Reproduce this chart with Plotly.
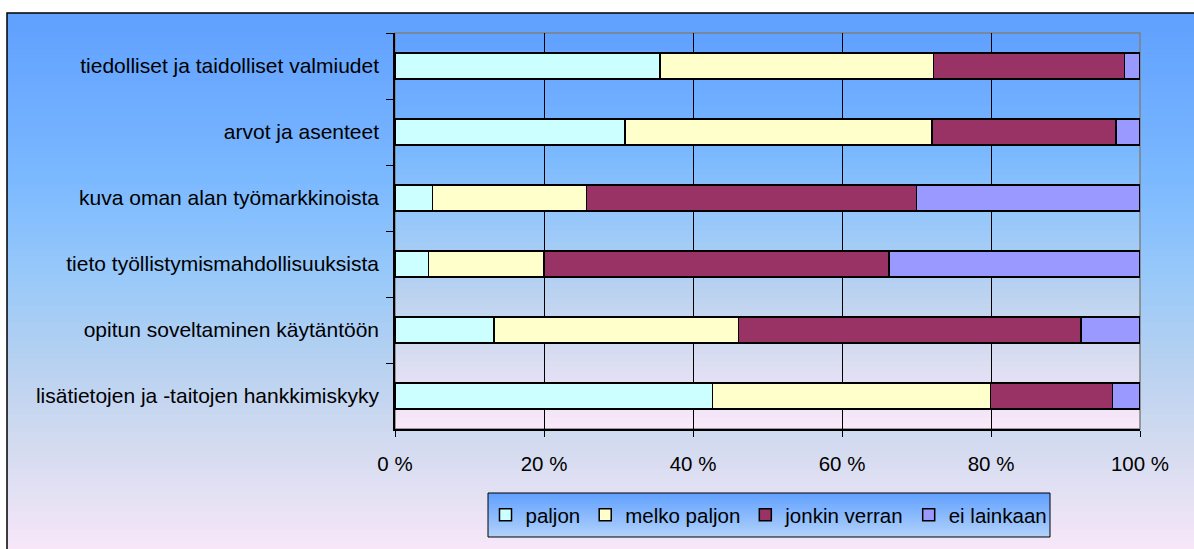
import plotly.graph_objects as go

categories = [
    "tiedolliset ja taidolliset valmiudet",
    "arvot ja asenteet",
    "kuva oman alan työmarkkinoista",
    "tieto työllistymismahdollisuuksista",
    "opitun soveltaminen käytäntöön",
    "lisätietojen ja -taitojen hankkimiskyky",
]
paljon = [35.6, 30.9, 5.0, 4.5, 13.3, 42.6]
melko_paljon = [36.7, 41.2, 20.7, 15.5, 32.8, 37.3]
jonkin_verran = [25.6, 24.7, 44.3, 46.3, 46.0, 16.4]
ei_lainkaan = [2.1, 3.2, 30.0, 33.7, 7.9, 3.7]
x_ticks = [0, 20, 40, 60, 80, 100]
x_tick_labels = ["0 %", "20 %", "40 %", "60 %", "80 %", "100 %"]

series = [
    ("paljon", paljon, "#CCFFFF"),
    ("melko paljon", melko_paljon, "#FFFFCC"),
    ("jonkin verran", jonkin_verran, "#993366"),
    ("ei lainkaan", ei_lainkaan, "#9999FF"),
]

W, H = 1194, 549
L, R, T, B = 395, 1140, 33, 429  # plot area in pixels

# gradient stops (fraction, rgb) - blue on top, pink at the bottom
STOPS = [
    (0.0, (96, 160, 255)),
    (0.3, (122, 184, 255)),
    (0.47, (150, 200, 250)),
    (0.65, (185, 210, 240)),
    (0.81, (215, 220, 240)),
    (1.0, (250, 232, 250)),
]


def grad_color(t, stops=STOPS):
    for (t0, c0), (t1, c1) in zip(stops, stops[1:]):
        if t <= t1:
            f = (t - t0) / (t1 - t0)
            return "rgb(%d,%d,%d)" % tuple(round(a + (b - a) * f) for a, b in zip(c0, c1))
    return "rgb(%d,%d,%d)" % stops[-1][1]


def px_x(px):
    return (px - L) / (R - L)


def px_y(py):
    return (B - py) / (B - T)


def gradient_rects(x0, x1, y0, y1, n, stops=STOPS):
    out = []
    step = (y1 - y0) / n
    for i in range(n):
        ya = y0 + i * step
        yb = ya + step + 0.8
        out.append(dict(
            type="rect", xref="paper", yref="paper", layer="below",
            x0=px_x(x0), x1=px_x(x1), y0=px_y(ya), y1=px_y(min(yb, y1)),
            fillcolor=grad_color((i + 0.5) / n, stops), line=dict(width=0),
        ))
    return out


# legend box (pixels), sized for plotly's legend entries
LEG = (488, 1050, 493, 537)

shapes = []
shapes += gradient_rects(7, 1200, 13, 560, 90)
shapes += gradient_rects(L, R, T, B, 70)
# frame around the whole chart
shapes.append(dict(type="rect", xref="paper", yref="paper", layer="below",
                   x0=px_x(7), x1=px_x(1205), y0=px_y(13), y1=px_y(570),
                   line=dict(color="black", width=1.5), fillcolor="rgba(0,0,0,0)"))
# gray border of the plot area
shapes.append(dict(type="rect", xref="paper", yref="paper", layer="below",
                   x0=0, x1=1, y0=0, y1=1,
                   line=dict(color="#808080", width=1.5), fillcolor="rgba(0,0,0,0)"))
# legend box with its own gradient
LEG_STOPS = [(0.0, (96, 160, 255)), (1.0, (178, 210, 250))]
shapes += gradient_rects(LEG[0], LEG[1], LEG[2], LEG[3], 20, LEG_STOPS)
shapes.append(dict(type="rect", xref="paper", yref="paper", layer="below",
                   x0=px_x(LEG[0]), x1=px_x(LEG[1]), y0=px_y(LEG[2]), y1=px_y(LEG[3]),
                   line=dict(color="black", width=1), fillcolor="rgba(0,0,0,0)"))

fig = go.Figure()
for name, vals, color in series:
    fig.add_trace(go.Bar(
        y=categories, x=vals, name=name, orientation="h",
        marker=dict(color=color, line=dict(color="black", width=1.5)),
    ))

font = "Liberation Sans, Arial, sans-serif"
fig.update_layout(
    width=W, height=H,
    barmode="stack", bargap=0.6,
    paper_bgcolor="white", plot_bgcolor="rgba(0,0,0,0)",
    font=dict(family=font, size=21, color="black"),
    margin=dict(l=L, r=W - R, t=T, b=H - B, pad=0),
    showlegend=True,
    legend=dict(
        orientation="h", x=px_x((LEG[0] + LEG[1]) / 2), y=px_y((LEG[2] + LEG[3]) / 2),
        xanchor="center", yanchor="middle",
        bgcolor="rgba(0,0,0,0)", borderwidth=0, font=dict(size=20.5),
        traceorder="normal",
    ),
    xaxis=dict(
        range=[0, 100], tickvals=x_ticks, ticktext=x_tick_labels,
        tickfont=dict(size=20.5),
        showgrid=True, gridcolor="black", gridwidth=1,
        zeroline=False, showline=True, linecolor="black", linewidth=1.5,
        ticks="outside", ticklen=6, tickcolor="black", ticklabelstandoff=10,
    ),
    yaxis=dict(
        autorange="reversed", showgrid=False, zeroline=False,
        showline=True, linecolor="black", linewidth=1.5,
        ticks="outside", tickson="boundaries", ticklen=7, tickcolor="black",
        ticklabelstandoff=10,
    ),
    shapes=shapes,
)

fig.write_html("out.html", config={"displayModeBar": False},
               post_script="document.body.style.margin='0';")
